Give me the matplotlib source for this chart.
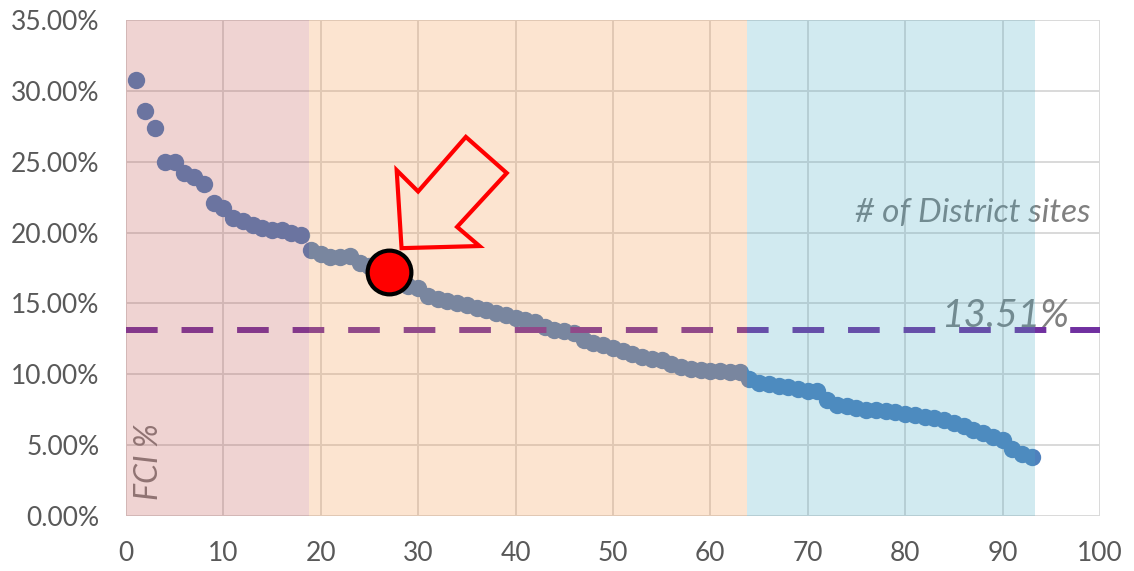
import matplotlib.pyplot as plt
from matplotlib.patches import Polygon
from matplotlib.ticker import FuncFormatter, MultipleLocator

# FCI % per district site, sorted high to low
sites = list(range(1, 94))
fci = [30.8, 28.55, 27.4, 25.0, 25.0, 24.2, 23.9, 23.4, 22.1, 21.75,
       21.0, 20.85, 20.55, 20.35, 20.15, 20.2, 19.95, 19.8, 18.8, 18.5,
       18.3, 18.3, 18.35, 17.85, 17.65, 17.45, 17.2, 16.6, 16.2, 16.1,
       15.5, 15.3, 15.15, 15.05, 14.9, 14.7, 14.55, 14.35, 14.2, 14.0,
       13.8, 13.7, 13.35, 13.15, 13.05, 12.9, 12.4, 12.2, 12.1, 11.85,
       11.65, 11.4, 11.25, 11.1, 11.0, 10.75, 10.5, 10.35, 10.3, 10.25,
       10.2, 10.18, 10.15, 9.65, 9.4, 9.3, 9.15, 9.1, 8.95, 8.85,
       8.85, 8.2, 7.8, 7.75, 7.62, 7.5, 7.45, 7.4, 7.32, 7.22,
       7.1, 7.0, 6.92, 6.75, 6.55, 6.33, 6.1, 5.85, 5.6, 5.35,
       4.7, 4.35, 4.15]

highlight_site = 27
avg_line = 13.1
avg_label = '13.51%'

# shaded bands (start, end, colour)
band_edges = [0, 18.8, 63.8, 93.3]
band_colors = ['#C0504D', '#F79646', '#4BACC6']

# block arrow outline pointing at the highlighted site
arrow_x = [28.3, 27.8, 30.0, 34.9, 39.1, 34.0, 36.3]
arrow_y = [18.9, 24.4, 22.9, 26.75, 24.2, 20.4, 19.05]

plt.rcParams['font.family'] = ['Lato', 'DejaVu Sans']

fig = plt.figure(figsize=(11.34, 5.71), dpi=100)
ax = fig.add_axes([0.111, 0.0963, 0.859, 0.8687])

ax.set_xlim(0, 100)
ax.set_ylim(0, 35)
ax.xaxis.set_major_locator(MultipleLocator(10))
ax.yaxis.set_major_locator(MultipleLocator(5))
ax.yaxis.set_major_formatter(FuncFormatter(lambda v, p: f'{v:.2f}%'))
ax.grid(True, color='#D9D9D9', linewidth=1.4, zorder=0)
ax.set_axisbelow(True)
for s in ax.spines.values():
    s.set_visible(False)
ax.tick_params(length=0, labelsize=19, colors='#595959')
ax.tick_params(axis='x', pad=18)
ax.tick_params(axis='y', pad=19)

# points
ax.plot(sites, fci, 'o', color='#4F81BD', markersize=12.5, markeredgewidth=0, zorder=2)

# average dashed line
ax.plot([0, 100], [avg_line, avg_line], color='#7030A0', linewidth=4.3,
        dashes=(5.3, 4.0), solid_capstyle='butt', dash_capstyle='butt', zorder=3)

# labels inside the plot
ax.text(2.4, 1.1, 'FCI %', rotation=90, ha='center', va='bottom',
        fontsize=23, style='italic', color='#808080', zorder=3)
ax.text(99.0, 21.4, '# of District sites', ha='right', va='center',
        fontsize=24, style='italic', color='#808080', zorder=3)
ax.text(96.8, 14.1, avg_label, ha='right', va='center',
        fontsize=28, style='italic', color='#808080', zorder=3)

# shaded bands on top (semi transparent)
for i, c in enumerate(band_colors):
    ax.axvspan(band_edges[i], band_edges[i + 1], color=c, alpha=0.25, lw=0, zorder=4)

# highlighted site
ax.plot(highlight_site, fci[highlight_site - 1], 'o', color='#FF0000', markersize=31.5,
        markeredgecolor='black', markeredgewidth=3, zorder=6)

arrow = Polygon(list(zip(arrow_x, arrow_y)), closed=True, fill=False,
                edgecolor='#FF0000', linewidth=3, joinstyle='miter', zorder=6)
ax.add_patch(arrow)

fig.savefig('out.png', dpi=100)
